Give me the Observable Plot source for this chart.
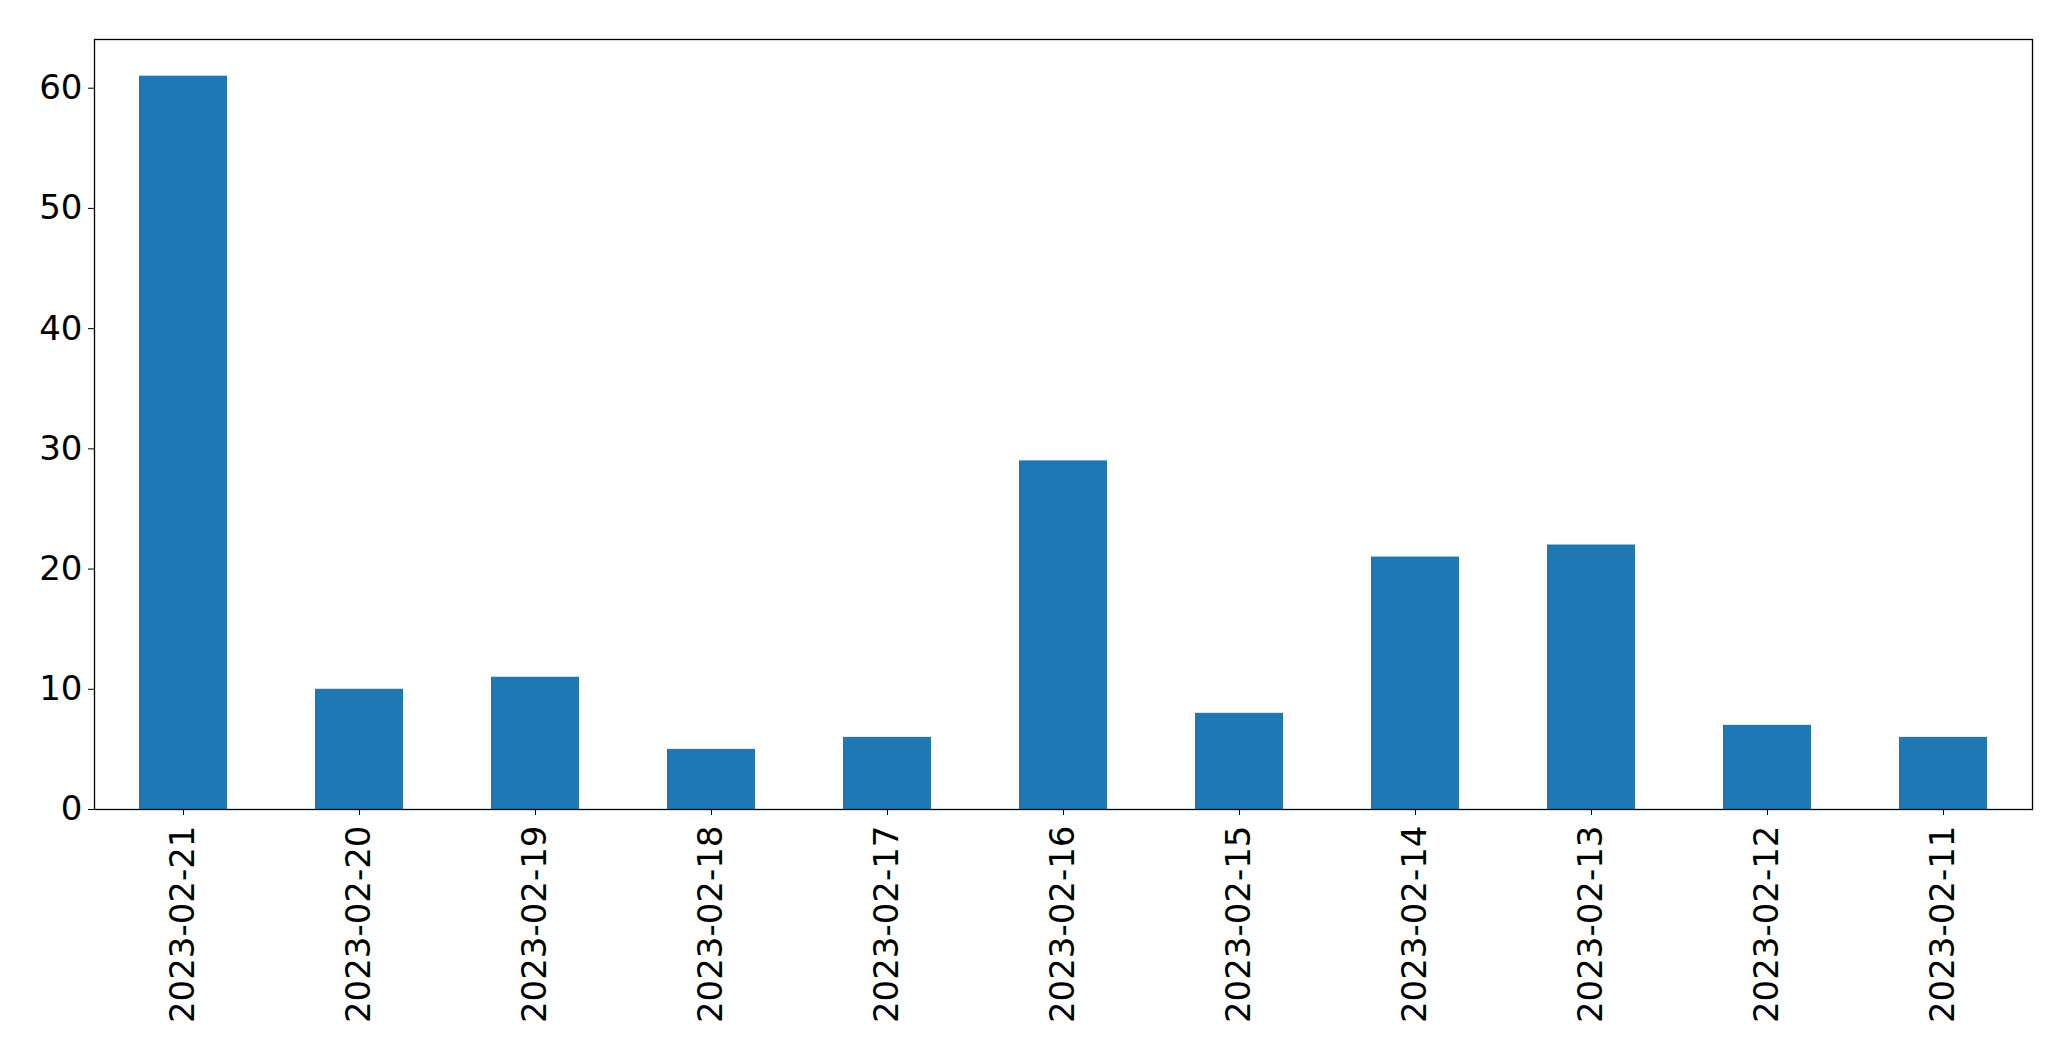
<!DOCTYPE html>
<html>
<head>
<meta charset="utf-8">
<script src="https://cdn.jsdelivr.net/npm/d3@7"></script>
<script src="https://cdn.jsdelivr.net/npm/@observablehq/plot@0.6"></script>
<style>
  html, body { margin: 0; padding: 0; background: #fff; }
  #chart svg { display: block; }
</style>
</head>
<body>
<div id="chart"></div>
<script>
const dates = ["2023-02-21","2023-02-20","2023-02-19","2023-02-18","2023-02-17","2023-02-16","2023-02-15","2023-02-14","2023-02-13","2023-02-12","2023-02-11"];
const counts = [61, 10, 11, 5, 6, 29, 8, 21, 22, 7, 6];
const yTicks = [0, 10, 20, 30, 40, 50, 60];

const data = dates.map((d, i) => ({date: d, count: counts[i]}));
const yMax = d3.max(counts) * 1.05;

const chart = Plot.plot({
  width: 2071,
  height: 1061,
  marginLeft: 94,
  marginRight: 39,
  marginTop: 39,
  marginBottom: 252,
  style: {fontFamily: "DejaVu Sans", fontSize: "34px", color: "black", background: "white"},
  x: {type: "band", domain: dates, paddingInner: 0.5, paddingOuter: 0.25, label: null},
  y: {domain: [0, yMax], label: null},
  marks: [
    Plot.barY(data, {x: "date", y: "count", fill: "#1f77b4"}),
    Plot.frame({stroke: "black", strokeWidth: 1.3}),
    Plot.axisY({ticks: yTicks, tickSize: 6, tickPadding: 6, fontSize: 34, label: null, stroke: "black"}),
    Plot.axisX({tickRotate: -90, tickSize: 6, tickPadding: 10, fontSize: 34, label: null, stroke: "black"})
  ]
});
document.getElementById("chart").appendChild(chart);
</script>
</body>
</html>
